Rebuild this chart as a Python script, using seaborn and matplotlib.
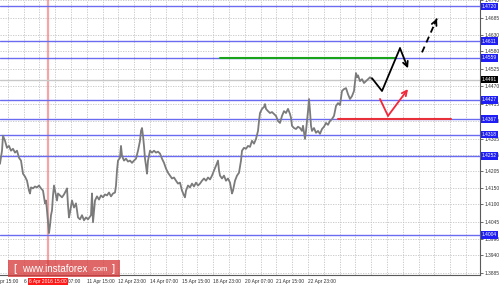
import numpy as np
import pandas as pd
import matplotlib
matplotlib.use("Agg")
import matplotlib.pyplot as plt
import matplotlib.transforms as mtransforms
from matplotlib.patches import Rectangle
import seaborn as sns

# ---------------- data ----------------
bars = [0, 2, 3, 5, 7, 9, 11, 13, 15, 17, 19, 21, 23, 25, 27, 29, 30, 31, 33, 35,
        37, 39, 41, 43, 45, 46, 47, 48, 49, 50, 51, 52, 53, 54, 55, 57, 58, 60, 62, 64,
        66, 67, 68, 69, 70, 72, 74, 76, 78, 80, 82, 84, 86, 88, 90, 91, 92, 93, 95, 97,
        99, 101, 103, 105, 107, 109, 111, 113, 115, 116, 117, 118, 120, 121, 122, 124, 126, 128, 130, 132,
        134, 136, 138, 140, 141, 142, 143, 144, 145, 146, 147, 148, 150, 152, 154, 156, 158, 160, 162, 164,
        166, 168, 170, 172, 174, 176, 178, 180, 182, 184, 185, 186, 188, 190, 192, 194, 196, 198, 200, 202,
        204, 206, 208, 210, 212, 214, 216, 218, 219, 220, 222, 224, 226, 228, 230, 232, 233, 235, 237, 239,
        241, 242, 244, 246, 248, 250, 252, 254, 256, 258, 259, 260, 262, 264, 265, 266, 268, 270, 272, 274,
        276, 278, 280, 282, 284, 286, 288, 290, 291, 292, 294, 296, 298, 300, 302, 303, 305, 306, 308, 309,
        310, 311, 312, 314, 316, 318, 320, 322, 324, 326, 328, 330, 332, 334, 336, 338, 340, 342, 344, 346,
        348, 350, 352, 354, 356, 357, 358, 360, 362, 364, 366, 368, 370, 372]
prices = [1.4227, 1.4268, 1.4315, 1.4299, 1.4277, 1.4283, 1.4268, 1.4274, 1.4262, 1.4268,
          1.4246, 1.4237, 1.4196, 1.4187, 1.4174, 1.4143, 1.4134, 1.4153, 1.4150, 1.4156,
          1.4153, 1.4159, 1.4150, 1.4143, 1.4103, 1.4112, 1.4081, 1.4044, 1.4010, 1.4034,
          1.4066, 1.4081, 1.4128, 1.4159, 1.4143, 1.4112, 1.4134, 1.4128, 1.4122, 1.4131,
          1.4143, 1.4150, 1.4097, 1.4059, 1.4075, 1.4112, 1.4090, 1.4103, 1.4059, 1.4053,
          1.4066, 1.4050, 1.4059, 1.4053, 1.4062, 1.4066, 1.4134, 1.4044, 1.4112, 1.4125,
          1.4115, 1.4128, 1.4122, 1.4131, 1.4128, 1.4137, 1.4125, 1.4134, 1.4137, 1.4159,
          1.4206, 1.4237, 1.4246, 1.4283, 1.4252, 1.4237, 1.4243, 1.4234, 1.4237, 1.4230,
          1.4237, 1.4243, 1.4268, 1.4299, 1.4330, 1.4339, 1.4315, 1.4283, 1.4243, 1.4221,
          1.4196, 1.4237, 1.4268, 1.4262, 1.4268, 1.4262, 1.4265, 1.4259, 1.4243, 1.4230,
          1.4212, 1.4199, 1.4190, 1.4181, 1.4184, 1.4174, 1.4165, 1.4168, 1.4143, 1.4128,
          1.4122, 1.4143, 1.4159, 1.4153, 1.4165, 1.4156, 1.4168, 1.4159, 1.4165, 1.4174,
          1.4181, 1.4174, 1.4184, 1.4178, 1.4190, 1.4206, 1.4221, 1.4237, 1.4206, 1.4190,
          1.4181, 1.4190, 1.4174, 1.4181, 1.4168, 1.4134, 1.4143, 1.4174, 1.4190, 1.4199,
          1.4237, 1.4268, 1.4277, 1.4274, 1.4283, 1.4280, 1.4299, 1.4290, 1.4305, 1.4330,
          1.4361, 1.4386, 1.4399, 1.4405, 1.4414, 1.4399, 1.4392, 1.4386, 1.4389, 1.4383,
          1.4377, 1.4361, 1.4355, 1.4377, 1.4392, 1.4386, 1.4399, 1.4383, 1.4371, 1.4346,
          1.4339, 1.4336, 1.4343, 1.4339, 1.4330, 1.4346, 1.4305, 1.4330, 1.4392, 1.4430,
          1.4392, 1.4346, 1.4330, 1.4339, 1.4324, 1.4330, 1.4321, 1.4336, 1.4343, 1.4355,
          1.4349, 1.4361, 1.4367, 1.4377, 1.4408, 1.4417, 1.4411, 1.4455, 1.4461, 1.4464,
          1.4445, 1.4430, 1.4439, 1.4455, 1.4511, 1.4498, 1.4504, 1.4486, 1.4492, 1.4480,
          1.4486, 1.4492, 1.4498, 1.4492]

level_values = [1.4720, 1.4611, 1.4559, 1.4427, 1.4367, 1.4318, 1.4252, 1.4004]
current_price = 1.4491
green_level = 1.4559
green_span = [220, 396]
red_level = 1.4367
red_span = [338, 451]
marker_bar = 48
marker_label = "6 Apr 2016 15:00"

ytick_values = [1.4740, 1.4685, 1.4630, 1.4580, 1.4525, 1.4470, 1.4415, 1.4360,
                1.4305, 1.4255, 1.4205, 1.4150, 1.4100, 1.4045, 1.3990, 1.3940, 1.3885]
xtick_labels = ["5 Apr 15:00", "6 Apr 23:00", "8 Apr 07:00", "11 Apr 15:00",
                "12 Apr 23:00", "14 Apr 07:00", "15 Apr 15:00", "18 Apr 23:00",
                "20 Apr 07:00", "21 Apr 15:00", "22 Apr 23:00"]

main_path_x = [372, 382, 400, 408]
main_path_y = [1.4495, 1.4455, 1.4589, 1.4526]
alt_path_x = [422, 437]
alt_path_y = [1.4576, 1.4682]
red_path_x = [380, 388, 408]
red_path_y = [1.4430, 1.4377, 1.4461]

# ---------------- style ----------------
sns.set_style("white")
plt.rcParams['font.family'] = ['Liberation Sans', 'DejaVu Sans']
FS = 3.5

W, H = 500, 286
fig = plt.figure(figsize=(W / 100, H / 100), dpi=100)
fig.patch.set_facecolor("white")
ax = fig.add_axes([0, 11 / H, 480 / W, 275 / H])
ax.set_xlim(0, 480)
ax.set_ylim(1.38787, 1.47348)

grid_c = "#c4c4c4"
step = 15.8
first_tick = -8
for gx in np.arange(first_tick, 480, step):
    ax.axvline(gx, color=grid_c, ls=(0, (1.5, 1.5)), lw=0.6, zorder=0)
for t in ytick_values:
    ax.axhline(t, color=grid_c, ls=(0, (1.5, 1.5)), lw=0.6, zorder=0)

# marker vertical line
ax.axvline(marker_bar, color="#f08080", lw=1.6, alpha=0.7, zorder=1)

# current price line
ax.axhline(current_price, color="#c8c8c8", lw=1.0, zorder=1)

# blue levels
for v in level_values:
    ax.axhline(v, color="#6b6bf2", lw=1.0, zorder=2)

# green / red levels
ax.plot(green_span, [green_level, green_level], color="#1aa31a", lw=1.5, zorder=3)
ax.plot(red_span, [red_level, red_level], color="#e8303a", lw=1.5, zorder=3)

# price
sns.lineplot(x=bars, y=prices, ax=ax, color="#7b7b7b", lw=1.3,
             estimator=None, sort=False, zorder=4)

# forecast arrows
ax.plot(main_path_x[:-1], main_path_y[:-1], color="black", lw=1.3, zorder=5,
        solid_capstyle="round")
ax.annotate("", xy=(main_path_x[-1], main_path_y[-1]),
            xytext=(main_path_x[-2], main_path_y[-2]),
            arrowprops=dict(arrowstyle="->", lw=1.3, color="black",
                            mutation_scale=9, shrinkA=0, shrinkB=0), zorder=5)
ax.plot(alt_path_x, alt_path_y, color="black", lw=1.3, ls=(0, (3.5, 2.5)), zorder=5)
hx = alt_path_x[-1] - 0.15 * (alt_path_x[-1] - alt_path_x[0])
hy = alt_path_y[-1] - 0.15 * (alt_path_y[-1] - alt_path_y[0])
ax.annotate("", xy=(alt_path_x[-1], alt_path_y[-1]), xytext=(hx, hy),
            arrowprops=dict(arrowstyle="->", lw=1.3, color="black",
                            mutation_scale=9, shrinkA=0, shrinkB=0), zorder=5)
ax.plot(red_path_x[:-1], red_path_y[:-1], color="#f0283a", lw=1.3, zorder=5)
ax.annotate("", xy=(red_path_x[-1], red_path_y[-1]),
            xytext=(red_path_x[-2], red_path_y[-2]),
            arrowprops=dict(arrowstyle="->", lw=1.3, color="#f0283a",
                            mutation_scale=9, shrinkA=0, shrinkB=0), zorder=5)

# axes / ticks
for s in ["top", "left"]:
    ax.spines[s].set_visible(False)
for s in ["right", "bottom"]:
    ax.spines[s].set_color("#5a5a5a")
    ax.spines[s].set_linewidth(0.8)
ax.yaxis.tick_right()
ax.set_yticks(ytick_values)
ax.set_yticklabels([f"{v:.4f}" for v in ytick_values])
ax.tick_params(axis="y", labelsize=FS, length=2, width=0.5, pad=1.5,
               colors="#303030")

tick_pos = [first_tick + 2 * step * k for k in range(len(xtick_labels))]
ax.set_xticks(tick_pos[1:])
ax.set_xticklabels(xtick_labels[1:], ha="left")
ax.tick_params(axis="x", labelsize=FS, length=2, width=0.5, pad=1.2,
               colors="#303030")
ax.set_xlabel("")
ax.set_ylabel("")
xform = mtransforms.blended_transform_factory(ax.transData, ax.transAxes)
ax.text(tick_pos[0] + 1, -0.016, xtick_labels[0], transform=xform, ha="left",
        va="top", fontsize=FS, color="#303030", clip_on=False)

# marker date label
ax.text(marker_bar, -0.014, marker_label, transform=xform, ha="center",
        va="top", fontsize=FS, color="white", clip_on=False, zorder=10,
        bbox=dict(boxstyle="square,pad=0.2", fc="#ff1a1a", ec="none"))

# right-side price labels
yform = mtransforms.blended_transform_factory(ax.transAxes, ax.transData)
for v in level_values:
    ax.text(1.004, v, f"{v:.4f}", transform=yform, ha="left", va="center",
            fontsize=FS, color="white", clip_on=False, zorder=10,
            bbox=dict(boxstyle="square,pad=0.25", fc="#1e1ef5", ec="none"))
ax.text(1.004, current_price, f"{current_price:.4f}", transform=yform,
        ha="left", va="center", fontsize=FS, color="white", clip_on=False,
        zorder=10, bbox=dict(boxstyle="square,pad=0.25", fc="black", ec="none"))

# watermark
fig.patches.append(Rectangle((8 / W, 9 / H), 112 / W, 17 / H,
                             transform=fig.transFigure, fc="#d63c3c",
                             alpha=0.78, ec="none", zorder=5))
fig.text(13 / W, 17.5 / H, "[", color="white", fontsize=8, va="center",
         ha="left", zorder=6)
fig.text(22 / W, 17 / H, "www.instaforex", color="white", fontsize=7,
         va="center", ha="left", zorder=6)
fig.text(91 / W, 16.5 / H, ".com", color="white", fontsize=5.4,
         va="center", ha="left", zorder=6)
fig.text(112 / W, 17.5 / H, "]", color="white", fontsize=8, va="center",
         ha="left", zorder=6)

fig.savefig("out.png", dpi=100, facecolor="white")
